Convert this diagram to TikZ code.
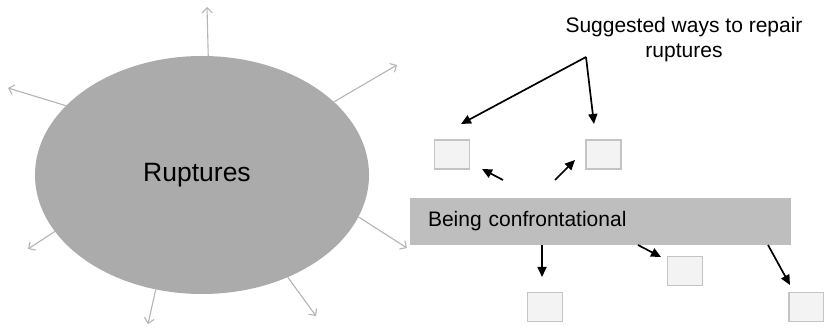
\documentclass[tikz,border=0pt]{standalone}
\usepackage{fontspec}
\setmainfont{Liberation Sans}
\usetikzlibrary{arrows.meta,shapes.geometric}
\definecolor{blobgray}{HTML}{ABABAB}
\definecolor{bargray}{HTML}{BEBEBE}
\definecolor{raygray}{HTML}{B4B4B4}
\definecolor{boxfill}{HTML}{F3F3F3}
\definecolor{boxline}{HTML}{C4C4C4}
\tikzset{
  blob/.style={ellipse, fill=blobgray, draw=none, minimum width=334pt, minimum height=238pt, inner sep=0pt},
  bar/.style={rectangle, fill=bargray, draw=none, minimum width=381pt, minimum height=47pt, inner sep=0pt},
  slot/.style={rectangle, fill=boxfill, draw=boxline, line width=1.3pt, minimum width=35pt, minimum height=29pt, inner sep=0pt},
  ray/.style={draw=raygray, line width=1.1pt, -{Straight Barb[length=5pt,width=10pt]}},
  blk/.style={draw=black, line width=1.7pt, -{Triangle[length=10pt,width=9pt]}},
  lbl/.style={font=\fontsize{21pt}{25pt}\selectfont, inner sep=0pt}
}
\begin{document}
\begin{tikzpicture}[x=1pt,y=-1pt]
\useasboundingbox (0,0) rectangle (824,328);

% central ellipse
\node[blob] (rup) at (202,175) {};
\node[inner sep=0pt, font=\fontsize{26.5pt}{31pt}\selectfont] (ruptxt) at (197,175) {Ruptures};

% outward rays
\coordinate (r1) at (207,7);
\coordinate (r2) at (397,65);
\coordinate (r3) at (8,88);
\coordinate (r4) at (28,249);
\coordinate (r5) at (407,248);
\coordinate (r6) at (148,324);
\coordinate (r7) at (316,316);
\draw[ray] (rup.87.6) -- (r1);
\draw[ray] (rup.29.7) -- (r2);
\draw[ray] (rup.153.3) -- (r3);
\draw[ray] (rup.201.5) -- (r4);
\draw[ray] (rup.-15.4) -- (r5);
\draw[ray] (rup.248) -- (r6);
\draw[ray] (rup.-50.7) -- (r7);

% heading
\node[lbl, align=center] (head) at (684,40) {Suggested ways to repair\\ruptures};

% bar
\node[bar, align=left, text width=345pt, font=\fontsize{21pt}{25pt}\selectfont] (conf) at (600.5,221.5) {Being confrontational};

% empty boxes
\node[slot] (b1) at (452,154.5) {};
\node[slot] (b2) at (603.5,154.5) {};
\node[slot] (b3) at (545,307) {};
\node[slot] (b4) at (685,271) {};
\node[slot] (b5) at (806.5,307) {};

% heading arrows
\coordinate (fork) at (586,57);
\coordinate (t1) at (461,124);
\coordinate (t2) at (594,124);
\draw[blk] (fork) -- (t1);
\draw[blk] (fork) -- (t2);

% arrows above the bar
\coordinate (s1) at (503,180);
\coordinate (u1) at (482,169);
\coordinate (s2) at (555,180);
\coordinate (u2) at (575,160);
\draw[blk] (s1) -- (u1);
\draw[blk] (s2) -- (u2);

% arrows below the bar
\coordinate (d1) at (542,277);
\coordinate (d2) at (661,257);
\coordinate (d3) at (790,285);
\draw[blk] (conf.south -| d1) -- (d1);
\draw[blk] (638,245) -- (d2);
\draw[blk] (768,245) -- (d3);
\end{tikzpicture}
\end{document}
